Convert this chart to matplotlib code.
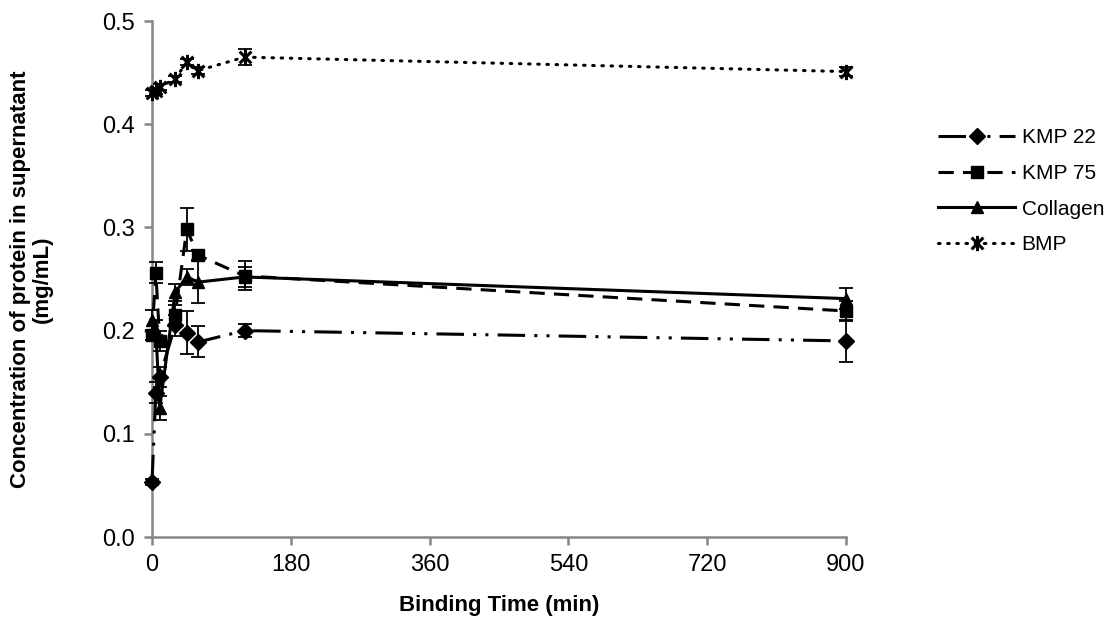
import matplotlib
matplotlib.use("Agg")
import matplotlib.pyplot as plt
from matplotlib.path import Path
from matplotlib.ticker import FormatStrFormatter

plt.rcParams['font.family'] = ['Liberation Sans', 'DejaVu Sans']

times = [0, 5, 10, 30, 45, 60, 120, 900]
kmp22 = [0.053, 0.140, 0.155, 0.205, 0.198, 0.189, 0.200, 0.190]
kmp22_err = [0.003, 0.010, 0.010, 0.010, 0.021, 0.015, 0.006, 0.020]
kmp75 = [0.196, 0.256, 0.190, 0.215, 0.298, 0.273, 0.253, 0.219]
kmp75_err = [0.005, 0.010, 0.010, 0.010, 0.021, 0.005, 0.014, 0.010]
collagen = [0.210, 0.200, 0.125, 0.237, 0.252, 0.247, 0.252, 0.231]
collagen_err = [0.010, 0.010, 0.012, 0.008, 0.008, 0.020, 0.010, 0.010]
bmp = [0.430, 0.432, 0.436, 0.444, 0.460, 0.452, 0.465, 0.451]
bmp_err = [0.003, 0.003, 0.003, 0.003, 0.003, 0.003, 0.008, 0.004]

x_ticks = [0, 180, 360, 540, 720, 900]
y_ticks = [0.0, 0.1, 0.2, 0.3, 0.4, 0.5]

star = Path([(-1, -1), (1, 1), (-1, 1), (1, -1), (0, -1.3), (0, 1.3)],
            [Path.MOVETO, Path.LINETO, Path.MOVETO, Path.LINETO, Path.MOVETO, Path.LINETO])

fig = plt.figure(figsize=(11.13, 6.31), dpi=100)
ax = fig.add_axes([152/1113, 1-537/631, (846-152)/1113, (537-21)/631])

series = [
    ("KMP 22", kmp22, kmp22_err, 'D', (0, (9, 3, 1, 3, 1, 3)), 8),
    ("KMP 75", kmp75, kmp75_err, 's', (0, (5, 3)), 9),
    ("Collagen", collagen, collagen_err, '^', '-', 9),
    ("BMP", bmp, bmp_err, star, (0, (0.5, 2.5)), 11),
]

handles = []
for name, vals, err, mk, ls, ms in series:
    ax.errorbar(times, vals, yerr=err, fmt='none', ecolor='black',
                elinewidth=1.3, capsize=5, capthick=1.3, clip_on=False, zorder=3)
    ln, = ax.plot(times, vals, color='black', linestyle=ls, linewidth=2.2,
                  marker=mk, markersize=ms, markerfacecolor='black',
                  markeredgecolor='black', markeredgewidth=2.2 if mk is star else 1,
                  clip_on=False, label=name, zorder=4,
                  dash_capstyle='round' if name == "BMP" else 'butt')
    handles.append(ln)

ax.set_xlim(0, 900)
ax.set_ylim(0, 0.5)
ax.set_xticks(x_ticks)
ax.set_yticks(y_ticks)
ax.yaxis.set_major_formatter(FormatStrFormatter('%.1f'))

for s in ['top', 'right']:
    ax.spines[s].set_visible(False)
for s in ['left', 'bottom']:
    ax.spines[s].set_color('#868686')
    ax.spines[s].set_linewidth(1.8)

ax.tick_params(axis='both', direction='out', length=6, width=1.8, color='#868686',
               labelsize=17, labelcolor='black', pad=6)

ax.set_xlabel("Binding Time (min)", fontsize=16, fontweight='bold', labelpad=14)
ax.set_ylabel("Concentration of protein in supernatant\n(mg/mL)", fontsize=16,
              fontweight='bold', labelpad=36, linespacing=1.05)

fig.legend(handles=handles, loc='upper left', bbox_to_anchor=(930/1113, 1-120/631),
           frameon=False, fontsize=15, handlelength=3.7, labelspacing=0.8,
           handletextpad=0.3, borderaxespad=0)

fig.savefig("out.png", dpi=100)
